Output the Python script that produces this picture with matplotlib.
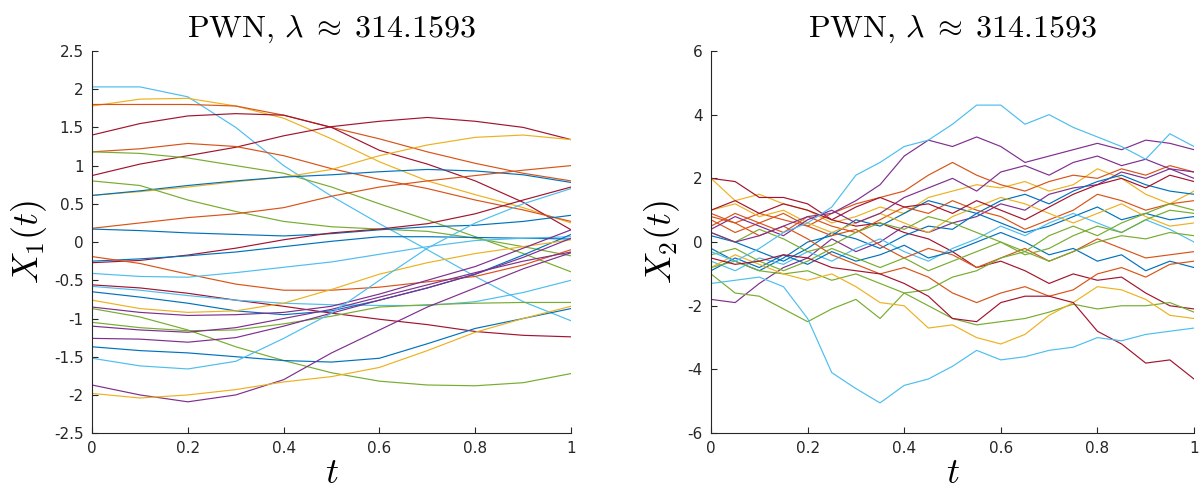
import numpy as np
import matplotlib.pyplot as plt

plt.rcParams['mathtext.fontset'] = 'cm'
plt.rcParams['font.family'] = ['DejaVu Sans']

# MATLAB default colour order
blue, orange, yellow, purple, green, cyan, darkred = (
    '#0072BD', '#D95319', '#EDB120', '#7E2F8E', '#77AC30', '#4DBEEE', '#A2142F')

title_txt = r'$\mathrm{PWN},\,\lambda\;\approx\;314.1593$'

# ---- left panel: X1(t), sampled every 0.1 ----
t1 = [0, 0.1, 0.2, 0.3, 0.4, 0.5, 0.6, 0.7, 0.8, 0.9, 1.0]
x1_paths = [
    (cyan,    [2.03, 2.03, 1.9, 1.5, 1.0, 0.6, 0.24, -0.1, -0.45, -0.78, -1.03]),
    (yellow,  [1.78, 1.87, 1.88, 1.78, 1.62, 1.35, 1.05, 0.8, 0.62, 0.45, 0.25]),
    (orange,  [1.8, 1.8, 1.8, 1.78, 1.66, 1.5, 1.35, 1.18, 1.03, 0.9, 0.8]),
    (darkred, [1.4, 1.55, 1.65, 1.68, 1.66, 1.5, 1.2, 1.02, 0.8, 0.52, 0.16]),
    (darkred, [0.87, 1.02, 1.13, 1.24, 1.39, 1.51, 1.58, 1.63, 1.58, 1.5, 1.34]),
    (orange,  [1.18, 1.22, 1.29, 1.25, 1.13, 0.96, 0.82, 0.7, 0.55, 0.42, 0.27]),
    (green,   [1.18, 1.16, 1.1, 1.0, 0.9, 0.72, 0.5, 0.29, 0.07, -0.15, -0.39]),
    (yellow,  [0.61, 0.66, 0.72, 0.79, 0.85, 0.95, 1.13, 1.27, 1.37, 1.4, 1.34]),
    (blue,    [0.61, 0.67, 0.74, 0.8, 0.85, 0.88, 0.92, 0.95, 0.93, 0.88, 0.78]),
    (green,   [0.8, 0.74, 0.55, 0.4, 0.27, 0.2, 0.17, 0.14, 0.05, -0.06, -0.18]),
    (orange,  [0.18, 0.25, 0.32, 0.37, 0.45, 0.6, 0.72, 0.8, 0.87, 0.94, 1.0]),
    (blue,    [0.17, 0.15, 0.12, 0.1, 0.08, 0.11, 0.16, 0.2, 0.22, 0.27, 0.35]),
    (darkred, [-0.27, -0.24, -0.17, -0.08, 0.03, 0.12, 0.17, 0.24, 0.37, 0.55, 0.72]),
    (blue,    [-0.25, -0.22, -0.18, -0.13, -0.06, 0.01, 0.07, 0.07, 0.06, 0.05, 0.04]),
    (orange,  [-0.19, -0.28, -0.42, -0.55, -0.63, -0.63, -0.59, -0.52, -0.45, -0.3, -0.1]),
    (cyan,    [-0.41, -0.45, -0.46, -0.4, -0.33, -0.26, -0.16, -0.06, 0.02, 0.05, 0.07]),
    (darkred, [-0.56, -0.6, -0.67, -0.76, -0.84, -0.93, -1.01, -1.08, -1.17, -1.22, -1.24]),
    (cyan,    [-0.58, -0.63, -0.7, -0.76, -0.8, -0.82, -0.83, -0.83, -0.78, -0.66, -0.5]),
    (blue,    [-0.65, -0.72, -0.8, -0.9, -0.95, -0.9, -0.76, -0.6, -0.42, -0.17, 0.1]),
    (yellow,  [-0.76, -0.87, -0.92, -0.9, -0.8, -0.62, -0.42, -0.27, -0.15, -0.06, 0.03]),
    (purple,  [-0.85, -0.92, -0.96, -0.95, -0.92, -0.84, -0.68, -0.5, -0.32, -0.08, 0.16]),
    (green,   [-0.87, -0.98, -1.15, -1.37, -1.55, -1.71, -1.82, -1.87, -1.88, -1.84, -1.72]),
    (green,   [-1.05, -1.12, -1.16, -1.15, -1.07, -0.97, -0.85, -0.82, -0.8, -0.79, -0.79]),
    (purple,  [-1.1, -1.15, -1.18, -1.12, -1.0, -0.88, -0.72, -0.56, -0.4, -0.25, -0.13]),
    (purple,  [-1.26, -1.27, -1.31, -1.25, -1.1, -0.93, -0.76, -0.6, -0.42, -0.2, 0.05]),
    (blue,    [-1.37, -1.42, -1.45, -1.5, -1.55, -1.57, -1.52, -1.33, -1.13, -1.0, -0.87]),
    (cyan,    [-1.52, -1.62, -1.66, -1.56, -1.26, -0.93, -0.5, -0.08, 0.25, 0.5, 0.7]),
    (purple,  [-1.87, -2.0, -2.09, -2.0, -1.8, -1.45, -1.15, -0.85, -0.6, -0.35, -0.14]),
    (yellow,  [-1.98, -2.04, -2.0, -1.93, -1.83, -1.76, -1.64, -1.42, -1.18, -1.0, -0.84]),
]

# ---- right panel: X2(t), sampled every 0.05 ----
t2 = [0, 0.05, 0.1, 0.15, 0.2, 0.25, 0.3, 0.35, 0.4, 0.45, 0.5,
      0.55, 0.6, 0.65, 0.7, 0.75, 0.8, 0.85, 0.9, 0.95, 1.0]
x2_paths = [
    (yellow,  [2.0, 1.3, 1.5, 1.2, 1.0, 0.6, 0.8, 1.1, 0.9, 1.4, 1.6, 1.8, 1.7, 1.9, 1.6, 1.8, 2.3, 2.0, 1.5, 1.2, 1.6]),
    (darkred, [2.0, 1.9, 1.4, 1.4, 1.2, 0.7, 0.5, 0.6, 0.3, 0.1, -0.3, -0.8, -0.6, -0.9, -1.3, -1.0, -1.2, -1.1, -1.6, -2.0, -2.1]),
    (orange,  [0.8, 0.6, 0.9, 0.7, 0.5, 0.9, 1.2, 1.4, 1.6, 2.1, 2.5, 2.1, 1.8, 1.6, 1.9, 2.1, 2.0, 2.3, 2.1, 2.4, 2.2]),
    (purple,  [-1.8, -1.9, -1.3, -0.8, -0.5, 0.1, -0.3, 0.0, 0.5, 0.3, 0.6, 0.8, 1.2, 1.0, 1.5, 1.7, 1.8, 2.2, 2.0, 2.3, 2.0]),
    (blue,    [-0.2, -0.6, -0.9, -0.5, 0.0, 0.2, 0.7, 0.5, 0.9, 1.3, 1.1, 0.9, 1.3, 1.5, 1.2, 1.6, 1.9, 2.1, 1.8, 1.6, 1.5]),
    (orange,  [0.5, 0.9, 0.6, 0.3, 0.8, 0.5, 0.3, 0.7, 1.1, 0.9, 1.3, 1.0, 0.8, 0.4, 0.7, 1.0, 1.5, 1.3, 1.0, 1.2, 1.3]),
    (blue,    [0.2, 0.0, -0.3, -0.6, -0.2, 0.3, 0.1, -0.2, 0.2, 0.5, 0.4, 0.9, 0.6, 0.3, 0.5, 0.8, 1.1, 0.7, 0.9, 0.7, 0.8]),
    (yellow,  [1.0, 1.2, 0.8, 1.0, 0.6, 0.3, 0.6, 0.9, 0.6, 0.3, 0.8, 1.1, 1.4, 1.2, 0.9, 0.6, 0.9, 1.2, 0.8, 0.5, 0.6]),
    (cyan,    [-0.6, -0.9, -0.5, -0.7, -0.3, -0.6, -0.2, 0.1, -0.3, -0.6, -0.2, 0.1, 0.5, 0.2, 0.6, 0.9, 0.6, 0.3, 0.7, 0.4, 0.0]),
    (orange,  [0.7, 0.3, 0.6, 0.9, 0.5, 0.2, 0.4, -0.1, -0.5, -0.2, -0.4, -0.8, -0.5, -0.2, -0.6, -0.3, 0.1, -0.2, -0.5, -0.4, -0.3]),
    (blue,    [-0.9, -0.5, -0.8, -0.4, -0.7, -0.3, -0.6, -0.4, -0.1, -0.5, -0.3, 0.0, 0.3, 0.0, -0.4, -0.2, -0.6, -0.4, -0.9, -0.6, -0.8]),
    (green,   [0.3, 0.0, 0.4, 0.1, -0.3, -0.1, 0.3, 0.6, 0.4, 0.8, 0.6, 0.3, 0.0, -0.4, -0.2, 0.2, 0.5, 0.3, 0.7, 1.0, 0.9]),
    (purple,  [0.4, 0.8, 0.5, 0.2, 0.7, 1.0, 0.6, 0.9, 1.4, 1.7, 2.0, 1.6, 2.2, 2.4, 2.1, 2.5, 2.7, 2.4, 2.6, 2.3, 2.2]),
    (orange,  [0.9, 0.6, 0.2, 0.5, 0.1, -0.4, -0.7, -1.0, -0.8, -1.1, -1.6, -1.9, -1.6, -1.4, -1.7, -1.5, -1.0, -0.8, -1.1, -0.7, -0.6]),
    (darkred, [1.0, 1.3, 0.9, 1.2, 1.0, 0.7, 1.1, 1.4, 1.1, 1.2, 0.9, 1.3, 1.0, 0.7, 1.1, 1.5, 1.8, 2.0, 1.7, 2.1, 1.9]),
    (green,   [-0.4, -0.2, -0.6, -0.9, -0.6, -0.2, -0.5, -0.8, -0.5, -0.9, -0.6, -0.3, 0.0, -0.3, 0.2, 0.5, 0.2, 0.6, 0.9, 1.2, 1.0]),
    (green,   [-1.0, -1.6, -1.7, -2.1, -2.5, -2.1, -1.8, -2.4, -1.6, -1.5, -1.1, -0.9, -0.5, -0.3, -0.6, -0.3, 0.0, 0.2, 0.1, 0.3, 0.2]),
    (green,   [-0.8, -0.6, -0.9, -1.0, -0.9, -1.2, -1.0, -1.3, -1.6, -2.0, -2.4, -2.6, -2.5, -2.4, -2.2, -1.95, -2.1, -2.0, -2.0, -1.9, -2.2]),
    (yellow,  [-0.8, -0.4, -0.7, -1.0, -1.2, -1.0, -1.4, -1.9, -2.0, -2.7, -2.6, -3.0, -3.2, -2.9, -2.3, -1.9, -1.4, -1.5, -1.8, -2.3, -2.4]),
    (darkred, [-0.5, -0.7, -0.6, -0.4, -0.5, -0.8, -0.9, -1.0, -1.3, -1.7, -2.4, -2.5, -1.9, -1.7, -1.7, -1.9, -2.8, -3.2, -3.8, -3.7, -4.3]),
    (purple,  [0.3, 0.0, 0.2, 0.5, 0.8, 0.9, 1.3, 1.8, 2.7, 3.2, 3.0, 3.3, 3.0, 2.5, 2.7, 2.9, 3.1, 2.9, 3.2, 3.1, 2.9]),
    (cyan,    [-0.3, -0.6, -0.2, 0.3, 0.6, 1.1, 2.1, 2.5, 3.0, 3.2, 3.7, 4.3, 4.3, 3.7, 4.0, 3.6, 3.3, 3.0, 2.6, 3.4, 3.0]),
    (cyan,    [-1.3, -1.2, -1.1, -1.4, -2.4, -4.1, -4.6, -5.05, -4.5, -4.3, -3.9, -3.4, -3.7, -3.6, -3.4, -3.3, -3.0, -3.1, -2.9, -2.8, -2.7]),
]

fig = plt.figure(figsize=(12, 4.9), dpi=100)
ax1 = fig.add_axes([0.0767, 0.116, 0.3992, 0.780])
ax2 = fig.add_axes([0.5925, 0.116, 0.4025, 0.780])


def style_axes(ax, ylim, yticks, ylabel):
    ax.set_xlim(0, 1)
    ax.set_ylim(*ylim)
    ax.set_xticks([0, 0.2, 0.4, 0.6, 0.8, 1])
    ax.set_xticklabels(['0', '0.2', '0.4', '0.6', '0.8', '1'])
    ax.set_yticks(yticks)
    ax.set_yticklabels([('%g' % v) for v in yticks])
    for s in ['top', 'right']:
        ax.spines[s].set_visible(False)
    for s in ['left', 'bottom']:
        ax.spines[s].set_color('#262626')
        ax.spines[s].set_linewidth(0.8)
    ax.tick_params(direction='in', length=4, width=0.8, colors='#262626',
                   labelsize=11, pad=6)
    ax.set_title(title_txt, fontsize=23, pad=10)
    ax.set_xlabel(r'$t$', fontsize=26, labelpad=0)
    ax.set_ylabel(ylabel, fontsize=26, labelpad=4)


for c, y in x1_paths:
    ax1.plot(t1, y, color=c, lw=0.85)
style_axes(ax1, (-2.5, 2.5), [-2.5, -2, -1.5, -1, -0.5, 0, 0.5, 1, 1.5, 2, 2.5],
           r'$X_1(t)$')

for c, y in x2_paths:
    ax2.plot(t2, y, color=c, lw=0.85)
style_axes(ax2, (-6, 6), [-6, -4, -2, 0, 2, 4, 6], r'$X_2(t)$')

fig.savefig('out.png', dpi=100)
